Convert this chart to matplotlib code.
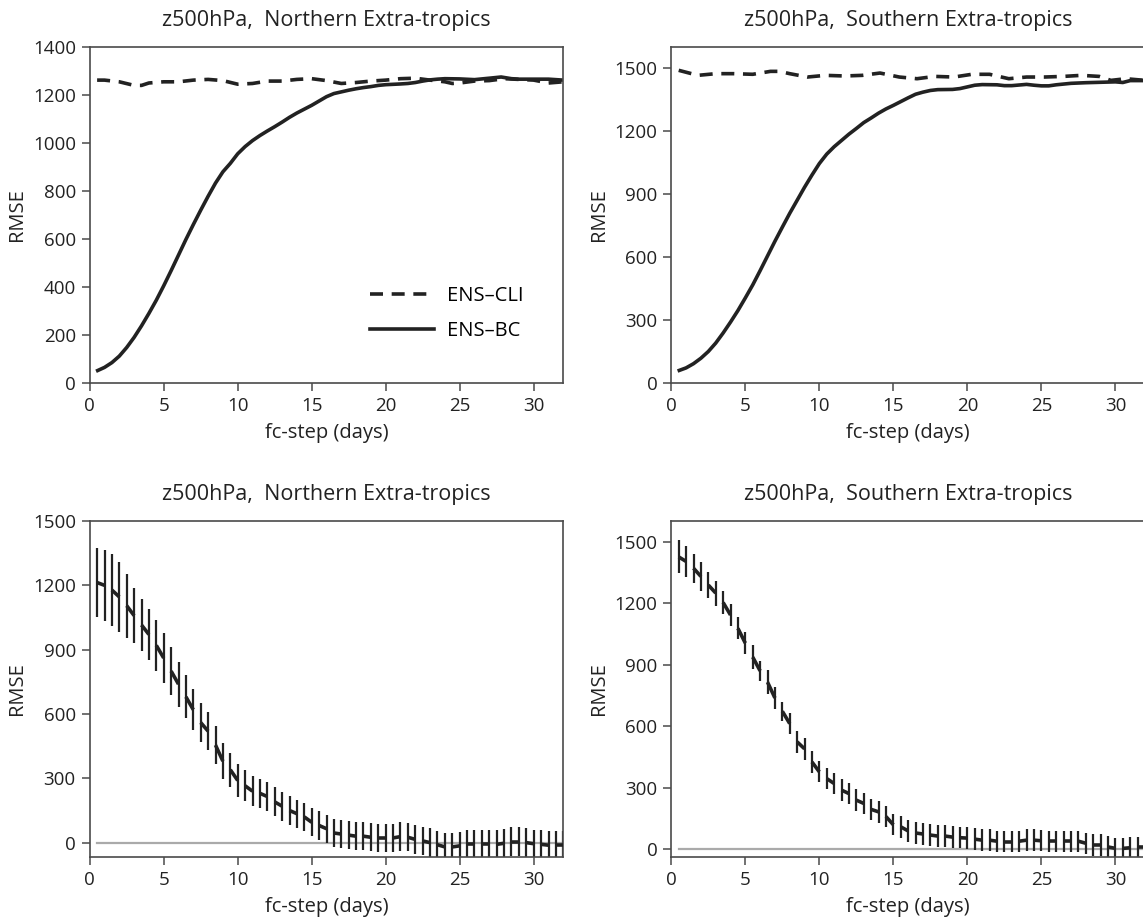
import numpy as np
import matplotlib
matplotlib.use("Agg")
import matplotlib.pyplot as plt

plt.rcParams['font.family'] = ['Open Sans', 'DejaVu Sans']

# ---------------- data ----------------
title_n = "z500hPa,  Northern Extra-tropics"
title_s = "z500hPa,  Southern Extra-tropics"
xlabel = "fc-step (days)"
ylabel = "RMSE"
legend_labels = ["ENS\u2013CLI", "ENS\u2013BC"]

# Top-left (NH): ENS-BC (solid) and ENS-CLI (dashed)
nh_bc_days = [0.54, 1.0, 1.5, 2.0, 2.5, 3.0, 3.5, 4.0, 4.5, 5.0, 5.5, 6.0, 6.5, 7.0, 7.5,
              8.0, 8.5, 9.0, 9.5, 10.0, 10.5, 11.0, 11.5, 12.0, 12.5, 13.0, 13.5, 14.0,
              14.5, 15.0, 15.5, 16.0, 16.5, 17.0, 17.5, 18.0, 18.5, 19.0, 19.5, 20.0,
              21.0, 21.5, 22.0, 22.5, 23.0, 23.5, 24.0, 25.0, 26.0, 27.0, 27.8, 28.5,
              29.0, 30.0, 31.0, 32.0]
nh_bc = [52, 65, 85, 112, 148, 190, 238, 290, 345, 405, 468, 533, 598, 660, 720,
         778, 833, 880, 915, 955, 985, 1010, 1031, 1050, 1068, 1087, 1107, 1125,
         1141, 1157, 1175, 1193, 1206, 1213, 1220, 1226, 1231, 1235, 1240, 1243,
         1246, 1248, 1252, 1258, 1263, 1266, 1268, 1267, 1264, 1270, 1275, 1268,
         1266, 1266, 1266, 1262]
nh_cli_days = [0.5, 1, 2, 3, 3.5, 4, 5, 6, 7, 8, 9, 10, 11, 12, 13, 14, 15, 16, 17, 18,
               19, 20, 21, 22, 23, 24, 24.5, 25, 26, 27, 28, 29, 30, 31, 32]
nh_cli = [1262, 1262, 1255, 1240, 1240, 1250, 1255, 1255, 1262, 1265, 1260, 1245, 1248,
          1258, 1258, 1265, 1268, 1260, 1248, 1252, 1258, 1262, 1268, 1270, 1262, 1255,
          1248, 1250, 1258, 1260, 1268, 1265, 1262, 1250, 1255]

# Top-right (SH)
sh_bc_days = [0.54, 1.0, 1.5, 2.0, 2.5, 3.0, 3.5, 4.0, 4.5, 5.0, 5.5, 6.0, 6.5, 7.0, 7.5,
              8.0, 8.5, 9.0, 9.5, 10.0, 10.5, 11.0, 11.5, 12.0, 12.5, 13.0, 13.5, 14.0,
              14.5, 15.0, 15.5, 16.0, 16.5, 17.0, 17.5, 18.0, 19.0, 19.5, 20.0, 20.5,
              21.0, 22.0, 22.5, 23.0, 24.0, 24.5, 25.0, 25.5, 26.0, 27.0, 28.0, 29.0,
              30.0, 30.5, 31.0, 32.0]
sh_bc = [60, 72, 92, 118, 150, 190, 238, 290, 345, 405, 467, 535, 605, 675, 742,
         808, 870, 932, 990, 1045, 1090, 1125, 1155, 1185, 1212, 1240, 1262, 1285,
         1305, 1322, 1340, 1358, 1375, 1385, 1393, 1397, 1398, 1402, 1410, 1418,
         1421, 1420, 1416, 1416, 1422, 1418, 1415, 1415, 1420, 1427, 1430, 1432,
         1434, 1431, 1440, 1440]
sh_cli_days = [0.5, 1.8, 3.0, 4.2, 5.5, 6.7, 7.3, 8.0, 9.2, 10.4, 11.7, 12.9, 14.1, 15.4,
               16.6, 17.8, 19.1, 20.3, 21.5, 22.8, 24.0, 25.2, 26.5, 27.7, 28.9, 29.7,
               30.7, 32.0]
sh_cli = [1489, 1465, 1473, 1473, 1470, 1484, 1484, 1473, 1457, 1465, 1462, 1465, 1476,
          1457, 1449, 1460, 1457, 1470, 1470, 1449, 1457, 1457, 1460, 1465, 1460, 1441,
          1449, 1441]

# Bottom panels: difference (ENS-CLI minus ENS-BC) with spread, every 0.5 day
diff_days = [0.5 * k for k in range(1, 65)]
nh_diff = [1213, 1200, 1178, 1146, 1105, 1059, 1015, 971, 920, 861, 800, 739, 680, 620,
           560, 520, 455, 380, 340, 290, 265, 240, 230, 215, 190, 170, 150, 135, 120, 95,
           80, 65, 45, 40, 35, 30, 30, 25, 20, 20, 22, 28, 25, 15, 8, 0, -10, -20, -20,
           -15, -8, -8, -8, -8, -8, -3, 5, 5, 0, -5, -8, -12, -12, -12]
nh_err = [161, 165, 167, 162, 150, 130, 120, 120, 120, 115, 111, 105, 100, 95, 92, 90,
          88, 85, 80, 75, 72, 70, 68, 68, 68, 68, 66, 66, 66, 66, 66, 66, 66, 66, 66, 66,
          66, 66, 66, 66, 66, 66, 66, 66, 66, 66, 66, 66, 66, 66, 66, 66, 66, 66, 66, 66,
          66, 66, 66, 66, 66, 66, 66, 66]
sh_diff = [1425, 1403, 1370, 1330, 1288, 1249, 1203, 1142, 1077, 1005, 937, 870, 815,
           738, 673, 613, 524, 490, 426, 378, 345, 321, 289, 272, 240, 224, 195, 183, 160,
           120, 110, 90, 80, 75, 70, 65, 65, 60, 57, 55, 50, 45, 45, 40, 37, 37, 40, 45,
           45, 42, 40, 40, 40, 40, 40, 30, 21, 21, 12, 5, 5, 8, 10, 10]
sh_err = [80, 77, 70, 69, 62, 61, 55, 54, 54, 52, 57, 50, 57, 52, 45, 52, 52, 52, 52, 52,
          52, 52, 52, 52, 52, 52, 52, 52, 52, 52, 52, 52, 52, 52, 52, 52, 52, 52, 52, 52,
          52, 52, 52, 52, 52, 52, 52, 52, 52, 52, 52, 52, 52, 52, 52, 52, 52, 52, 52, 52,
          52, 52, 52, 52]

# ---------------- layout ----------------
W, H = 1143, 922
fig = plt.figure(figsize=(W / 100, H / 100), dpi=100)


def rect(l, r, t, b):
    return [l / W, 1 - b / H, (r - l) / W, (b - t) / H]


FS_TICK = 13.5
FS_LAB = 14.5
FS_TITLE = 15.5
dark = '#222222'
spine_c = '#4a4a4a'
txt_c = '#222222'


def style(ax, title, ylim, yticks):
    ax.set_xlim(0, 32)
    ax.set_ylim(*ylim)
    ax.set_xticks([0, 5, 10, 15, 20, 25, 30])
    ax.set_yticks(yticks)
    for s in ax.spines.values():
        s.set_color(spine_c)
        s.set_linewidth(1.2)
    ax.tick_params(direction='out', length=6, width=1.1, color=spine_c,
                   labelsize=FS_TICK, pad=4, labelcolor=txt_c)
    ax.set_title(title, fontsize=FS_TITLE, pad=15, color=txt_c)
    ax.set_xlabel(xlabel, fontsize=FS_LAB, color=txt_c, labelpad=6)
    ax.set_ylabel(ylabel, fontsize=FS_LAB, color=txt_c, labelpad=4)


axes = [
    fig.add_axes(rect(89.7, 563.3, 47, 383)),
    fig.add_axes(rect(671.3, 1145, 47, 383)),
    fig.add_axes(rect(89.7, 563.3, 521, 857)),
    fig.add_axes(rect(671.3, 1145, 521, 857)),
]

# top-left
ax = axes[0]
ax.plot(nh_cli_days, nh_cli, color=dark, lw=2.6, ls=(0, (3.6, 2.4)), label=legend_labels[0])
ax.plot(nh_bc_days, nh_bc, color=dark, lw=2.6, label=legend_labels[1])
style(ax, title_n, (0, 1400), [0, 200, 400, 600, 800, 1000, 1200, 1400])
ax.legend(loc='lower left', bbox_to_anchor=(0.553, 0.07), frameon=False, fontsize=FS_LAB,
          handlelength=3.2, handletextpad=0.65, labelspacing=0.78)

# top-right
ax = axes[1]
ax.plot(sh_cli_days, sh_cli, color=dark, lw=2.6, ls=(0, (3.6, 2.4)))
ax.plot(sh_bc_days, sh_bc, color=dark, lw=2.6)
style(ax, title_s, (0, 1600), [0, 300, 600, 900, 1200, 1500])


def diff_panel(ax, d, e, title, ylim):
    ax.plot([diff_days[0], 40], [0, 0], color='#aaaaaa', lw=1.6, zorder=1)
    ax.errorbar(diff_days, d, yerr=e, fmt='none', ecolor=dark, elinewidth=1.6,
                capsize=0, zorder=2)
    for i in range(0, len(diff_days) - 1, 2):
        ax.plot(diff_days[i:i + 2], d[i:i + 2], color=dark, lw=2.6,
                solid_capstyle='butt', zorder=3)
    style(ax, title, ylim, [0, 300, 600, 900, 1200, 1500])


diff_panel(axes[2], nh_diff, nh_err, title_n, (-67, 1500))
diff_panel(axes[3], sh_diff, sh_err, title_s, (-37, 1600))

fig.savefig('out.png', dpi=100)
